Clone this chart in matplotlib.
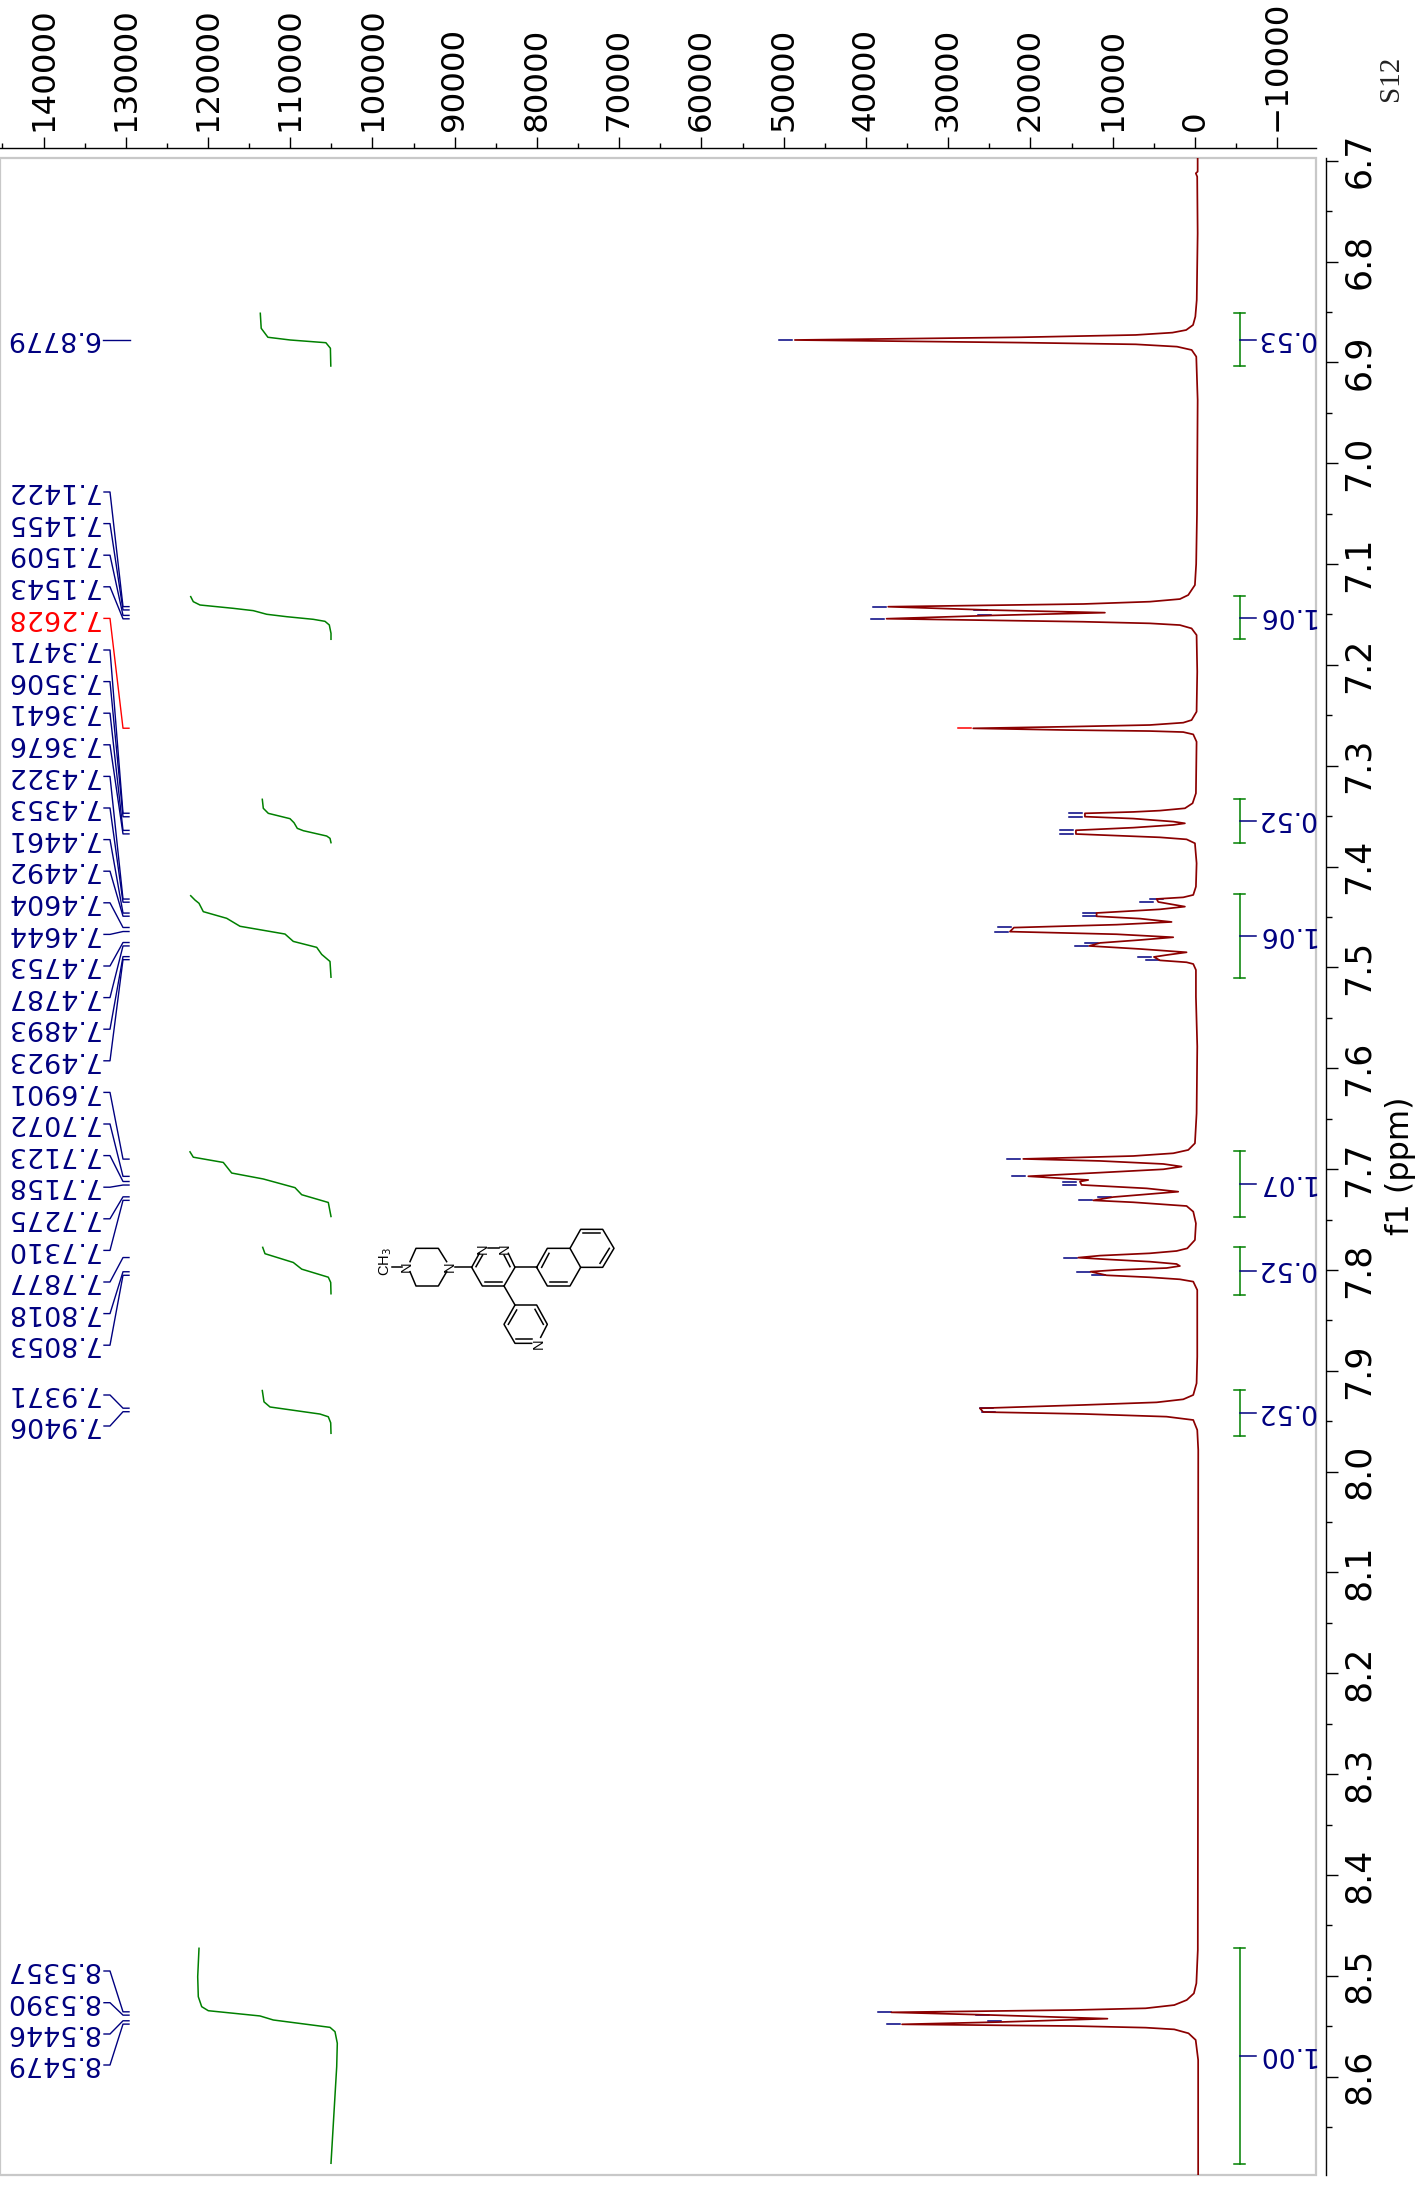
import numpy as np
import matplotlib
matplotlib.use("Agg")
import matplotlib.pyplot as plt
from matplotlib.patches import Rectangle
from matplotlib.ticker import MultipleLocator

# ---- spectrum trace (ppm, intensity) ----
ppm_a = [6.697, 6.7108, 6.7125, 6.7158, 6.772, 6.8381, 6.8546, 6.8629, 6.8679, 6.8705, 6.8728, 6.8751, 6.8778,
         6.8804, 6.8821, 6.8844, 6.8877, 6.8943, 6.9373, 7.05, 7.10]
int_a = [-330, -330, -107, -276, -330, -219, -50, 228, 1065, 2739, 7201, 21146, 48645,
         21146, 7201, 2179, 395, -163, -330, -250, -150]

ppm_b = [7.1208, 7.1307, 7.1347, 7.1373, 7.1396, 7.1423, 7.1456, 7.1482, 7.1509, 7.1542, 7.1562, 7.1572, 7.1588,
         7.1605, 7.1638, 7.1704, 7.2067, 7.2464, 7.2547, 7.2573, 7.2596, 7.2613, 7.2629, 7.2646, 7.2656, 7.2666,
         7.2689, 7.2762]
int_b = [3, 814, 1827, 5475, 13581, 37291, 25010, 10947, 24443, 37494, 21687, 13581, 5475,
         1827, 408, -199, -280, -199, 408, 1422, 5475, 15607, 26956, 15607, 5475, 1422,
         206, -199]

ppm_c = [7.3273, 7.3372, 7.3422, 7.3445, 7.3458, 7.3472, 7.3505, 7.3524, 7.3554, 7.3571, 7.3587, 7.3614, 7.364,
         7.3677, 7.3693, 7.3710, 7.373, 7.3769, 7.3967, 7.4199]
int_c = [-120, 285, 1217, 4257, 7499, 13376, 13376, 7499, 2635, 1217, 2635, 7499, 14470,
         14470, 9525, 4257, 1014, 0, -202, -120]

ppm_d = [7.4281, 7.4305, 7.4321, 7.4351, 7.4374, 7.4397, 7.4424, 7.4460, 7.4493, 7.4516, 7.4549, 7.4576, 7.4605,
         7.4645, 7.4671, 7.4701, 7.4728, 7.4757, 7.4787, 7.4817, 7.485, 7.4877, 7.4896, 7.493, 7.4949, 7.4966,
         7.5025, 7.529, 7.5785, 7.6447]
int_d = [204, 1420, 4662, 4459, 2838, 1217, 4257, 11957, 11957, 6688, 2838, 9525, 22009,
         22495, 9525, 2635, 6688, 11552, 12849, 6688, 1014, 3446, 4986, 4257, 1014, 204,
         -120, -120, -283, -202]

ppm_e = [7.6744, 7.681, 7.6843, 7.687, 7.6899, 7.6919, 7.6949, 7.6975, 7.7002, 7.7035, 7.7071, 7.7094, 7.7108,
         7.7124, 7.7157, 7.7191, 7.7224, 7.725, 7.7277, 7.731, 7.7329, 7.7366, 7.7422, 7.7538]
int_e = [0, 811, 2635, 7499, 20874, 11552, 3851, 1622, 3851, 11552, 20266, 15605, 12971,
         13984, 13780, 5878, 2027, 5878, 9931, 12363, 7499, 1014, 204, -120]

ppm_f = [7.7703, 7.7786, 7.7812, 7.7835, 7.7858, 7.7878, 7.7895, 7.7918, 7.7941, 7.7961, 7.7981, 7.8, 7.8017,
         7.8053, 7.8073, 7.8093, 7.8116, 7.8199, 7.8529, 7.886, 7.9124, 7.924, 7.9283, 7.9313, 7.9339, 7.9372,
         7.9409, 7.9428, 7.9455, 7.9488, 7.9587, 7.9786]
int_f = [2, 935, 2232, 5474, 11553, 14188, 10743, 5474, 2232, 1826, 3447, 9527, 12690,
         10742, 5474, 1826, 205, -282, -282, -282, -200, 205, 1421, 4663, 13580, 26144,
         25739, 13580, 3447, 205, -282, -403]

ppm_g = [8.4744, 8.5074, 8.5174, 8.524, 8.529, 8.5322, 8.5339, 8.5362, 8.5388, 8.5425, 8.5458, 8.5481, 8.5498,
         8.5514, 8.5531, 8.557, 8.5636, 8.5835, 8.6959, 8.6975]
int_g = [-349, -175, 128, 998, 2517, 5992, 14678, 36914, 25101, 10639, 23581, 35611, 14678,
         5992, 2517, 781, -89, -392, -392, -392]

# ---- peak picks ----
pick_labels = ["6.8779", "7.1422", "7.1455", "7.1509", "7.1543", "7.2628", "7.3471", "7.3506", "7.3641", "7.3676",
               "7.4322", "7.4353", "7.4461", "7.4492", "7.4604", "7.4644", "7.4753", "7.4787", "7.4893", "7.4923",
               "7.6901", "7.7072", "7.7123", "7.7158", "7.7275", "7.7310", "7.7877", "7.8018", "7.8053",
               "7.9371", "7.9406", "8.5357", "8.5390", "8.5446", "8.5479"]
pick_int = [48640, 37291, 25010, 24443, 37494, 26956, 13376, 13376, 14470, 14470,
            3567, 4783, 11755, 11755, 22009, 22414, 11471, 12687, 4986, 4054,
            20995, 20387, 14105, 14105, 9850, 12160, 14020, 12403, 10580,
            24198, 23955, 36600, 24700, 23225, 35570]

# ---- integrals ----
integral_labels = ["0.53", "1.06", "0.52", "1.06", "1.07", "0.52", "0.52", "1.00"]
integral_start = [6.8507, 7.1314, 7.333, 7.4275, 7.682, 7.7769, 7.9191, 8.4721]
integral_end = [6.9036, 7.1746, 7.3763, 7.5105, 7.7472, 7.8249, 7.9647, 8.6866]
integral_mid = [6.8778, 7.1532, 7.3545, 7.4688, 7.7148, 7.8007, 7.9419, 8.5793]

# integral curves, area on an arbitrary scale
curve_ppm_1 = [6.8513, 6.8662, 6.8751, 6.8778, 6.8805, 6.8860, 6.9036]
curve_val_1 = [260.3, 261.2, 267.9, 290.2, 325.9, 330.4, 330.8]
curve_ppm_2 = [7.1323, 7.1373, 7.1406, 7.1439, 7.1462, 7.1498, 7.1522, 7.1548, 7.1568, 7.1604, 7.1687, 7.1746]
curve_val_2 = [190.7, 193.3, 200, 233.3, 253.3, 266.7, 286.7, 313.3, 325, 329.3, 331, 331]
curve_ppm_3 = [7.3333, 7.3422, 7.3472, 7.3525, 7.3565, 7.3621, 7.3644, 7.3697, 7.372, 7.3763]
curve_val_3 = [262.3, 263.3, 268.3, 290, 294, 297.3, 303.3, 326.7, 330, 331]
curve_ppm_4 = [7.4289, 7.4332, 7.4364, 7.4447, 7.4513, 7.4592, 7.4669, 7.4742, 7.4801, 7.4871, 7.4941, 7.5097]
curve_val_4 = [190.7, 195, 199, 203.3, 226.7, 240, 285, 293.3, 316.7, 321.7, 330, 331]
curve_ppm_5 = [7.6829, 7.6882, 7.6934, 7.7039, 7.7098, 7.7184, 7.7254, 7.7331, 7.747]
curve_val_5 = [190, 193.3, 223.3, 231.7, 263.3, 295, 301.7, 328.3, 331]
curve_ppm_6 = [7.7776, 7.7839, 7.7926, 7.7992, 7.8072, 7.8124, 7.8236]
curve_val_6 = [262.7, 265, 293.3, 301.7, 328.3, 330.7, 331]
curve_ppm_7 = [7.9196, 7.9308, 7.9359, 7.9429, 7.9456, 7.9516, 7.962]
curve_val_7 = [262.3, 264, 270, 320, 328.3, 330.7, 331]
curve_ppm_8 = [8.4727, 8.5009, 8.5207, 8.5306, 8.5346, 8.5398, 8.5438, 8.5511, 8.5554, 8.5669, 8.5901, 8.6859]
curve_val_8 = [199, 197.7, 198.3, 201.7, 208.3, 260, 273.3, 330, 335, 337.3, 336.7, 331]

# ---- structure drawing, in the units of its own small axes ----
bonds = [
    [(125, 202), (155, 202)],
    [(180, 185), (198, 145), (265, 145), (290, 185)],
    [(180, 215), (198, 258), (265, 258), (290, 215)],
    [(315, 202), (365, 202)],
    [(388, 160), (365, 202), (397, 258), (462, 258), (495, 202), (475, 160)],
    [(378, 200), (398, 165)], [(462, 165), (480, 200)], [(405, 245), (455, 245)],
    [(415, 145), (448, 145)],
    [(495, 202), (560, 202)],
    [(560, 202), (592, 145), (660, 145), (692, 202), (660, 258), (592, 258), (560, 202)],
    [(660, 145), (692, 88), (758, 88), (792, 145), (758, 202), (692, 202)],
    [(575, 202), (597, 160)], [(600, 245), (652, 245)], [(700, 100), (750, 100)], [(778, 145), (750, 190)],
    [(462, 258), (495, 315)],
    [(572, 412), (592, 373), (560, 315), (495, 315), (462, 373), (495, 430), (545, 430)],
    [(500, 330), (475, 373)], [(555, 328), (580, 373)], [(497, 418), (545, 418)],
]
atoms = [("N", 170, 200), ("N", 300, 200), ("N", 398, 145), ("N", 465, 145), ("N", 565, 430)]

W, H = 1419, 2186
NAVY = "#000080"
GREEN = "#008000"
RED = "#8b0000"


def ax_box(left, top, right, bottom):
    return [left / W, 1 - bottom / H, (right - left) / W, (bottom - top) / H]


def px_to_ppm(py):
    return 6.7 + (py - 160.7) / 1008.4


plt.rcParams["font.family"] = "DejaVu Sans"
fig = plt.figure(figsize=(W / 100, H / 100), dpi=100)
box = ax_box(0, 157.7, 1316, 2175)
ax = fig.add_axes(box)
ax.set_xlim(145290, -14720)
ax.set_ylim(px_to_ppm(2175), px_to_ppm(157.7))
int_per_px = (145290 + 14720) / 1316

# black axes stand off from the grey frame
for side in ["left", "bottom"]:
    ax.spines[side].set_visible(False)
for side in ["top", "right"]:
    ax.spines[side].set_position(("outward", 7.2))
    ax.spines[side].set_linewidth(1.0)
ax.add_patch(Rectangle((0, 0), 1, 1, transform=ax.transAxes, fill=False, ec="#c8c8c8", lw=1.6, clip_on=False, zorder=0))

ax.xaxis.set_ticks_position("top")
ax.yaxis.set_ticks_position("right")
ax.xaxis.set_major_locator(MultipleLocator(10000))
ax.xaxis.set_minor_locator(MultipleLocator(5000))
ax.yaxis.set_major_locator(MultipleLocator(0.1))
ax.yaxis.set_minor_locator(MultipleLocator(0.05))
ax.tick_params(axis="x", which="major", length=7.9, width=1.0, labelsize=23.4, labelrotation=90, pad=4)
ax.tick_params(axis="x", which="minor", length=3.6, width=1.0)
ax.tick_params(axis="y", which="major", length=8.3, width=1.0, labelsize=25, labelrotation=90, pad=3)
ax.tick_params(axis="y", which="minor", length=4.3, width=1.0)
for lab in ax.get_yticklabels():
    lab.set_va("center")

# spectrum
trace_ppm = np.concatenate([ppm_a, ppm_b, ppm_c, ppm_d, ppm_e, ppm_f, ppm_g])
trace_int = np.concatenate([int_a, int_b, int_c, int_d, int_e, int_f, int_g])
ax.plot(trace_int, trace_ppm, color=RED, lw=1.25, solid_joinstyle="round", zorder=3)

# pick ticks just past the peak tips
for lab, tip in zip(pick_labels, pick_int):
    c = "#ff0000" if lab == "7.2628" else NAVY
    ax.plot([tip + 2.5 * int_per_px, tip + 15.5 * int_per_px], [float(lab)] * 2, color=c, lw=1.1, zorder=2)

# second layer for integrals and the labels, x runs along the page here
ax_int = fig.add_axes(box, sharey=ax)
ax_int.patch.set_visible(False)
ax_int.set_xlim(0, 1316)
ax_int.axis("off")

curves = [(curve_ppm_1, curve_val_1), (curve_ppm_2, curve_val_2), (curve_ppm_3, curve_val_3), (curve_ppm_4, curve_val_4),
          (curve_ppm_5, curve_val_5), (curve_ppm_6, curve_val_6), (curve_ppm_7, curve_val_7), (curve_ppm_8, curve_val_8)]
for cp, cv in curves:
    ax_int.plot(cv, cp, color=GREEN, lw=1.1)

for lab, a, b, m in zip(integral_labels, integral_start, integral_end, integral_mid):
    ax_int.plot([1239.5, 1239.5], [a, b], color=GREEN, lw=1.1)
    ax_int.plot([1234, 1245], [a, a], color=GREEN, lw=1.1)
    ax_int.plot([1234, 1245], [b, b], color=GREEN, lw=1.1)
    ax_int.plot([1239.5, 1256], [m, m], color=NAVY, lw=1.1)
    ax_int.text(1315.5, m - 0.0022, lab, rotation=180, ha="right", va="center", color=NAVY, fontsize=19.2, clip_on=False)

# peak labels, spread out evenly so they do not collide
label_py = [340.0] + [492 + i * 31.6 for i in range(28)] + [1395, 1426, 1971, 2002.7, 2034, 2065]
for lab, py in zip(pick_labels, label_py):
    c = "#ff0000" if lab == "7.2628" else NAVY
    p = float(lab)
    ly = px_to_ppm(py)
    if lab == "6.8779":
        ax_int.plot([103, 129.5], [p, p], color=c, lw=1.0)
    else:
        ax_int.plot([104, 110, 123, 129], [ly, ly, p, p], color=c, lw=1.0)
    ax_int.text(99, ly - 0.0018, lab, rotation=180, ha="right", va="center", color=c, fontsize=19.4)

# structure
ax_mol = fig.add_axes(ax_box(350, 1200, 650, 1400))
ax_mol.set_xlim(0, 900)
ax_mol.set_ylim(600, 0)
ax_mol.axis("off")
for b in bonds:
    xs, ys = zip(*b)
    ax_mol.plot(xs, ys, color="black", lw=1.1)
for name, ax_x, ax_y in atoms:
    ax_mol.text(ax_x, ax_y, name, rotation=90, ha="center", va="center", fontsize=10.5, family="Liberation Sans")
ax_mol.text(108, 185, "CH$_3$", rotation=90, ha="center", va="center", fontsize=10.5, family="Liberation Sans")

fig.text(1400 / W, 1 - 1166 / H, "f1 (ppm)", rotation=90, ha="center", va="center", fontsize=23)
fig.text(1391 / W, 1 - 78 / H, "S12", rotation=90, ha="center", va="center", fontsize=21, family="Liberation Serif", color="#222222")

fig.savefig("out.png", dpi=100)
